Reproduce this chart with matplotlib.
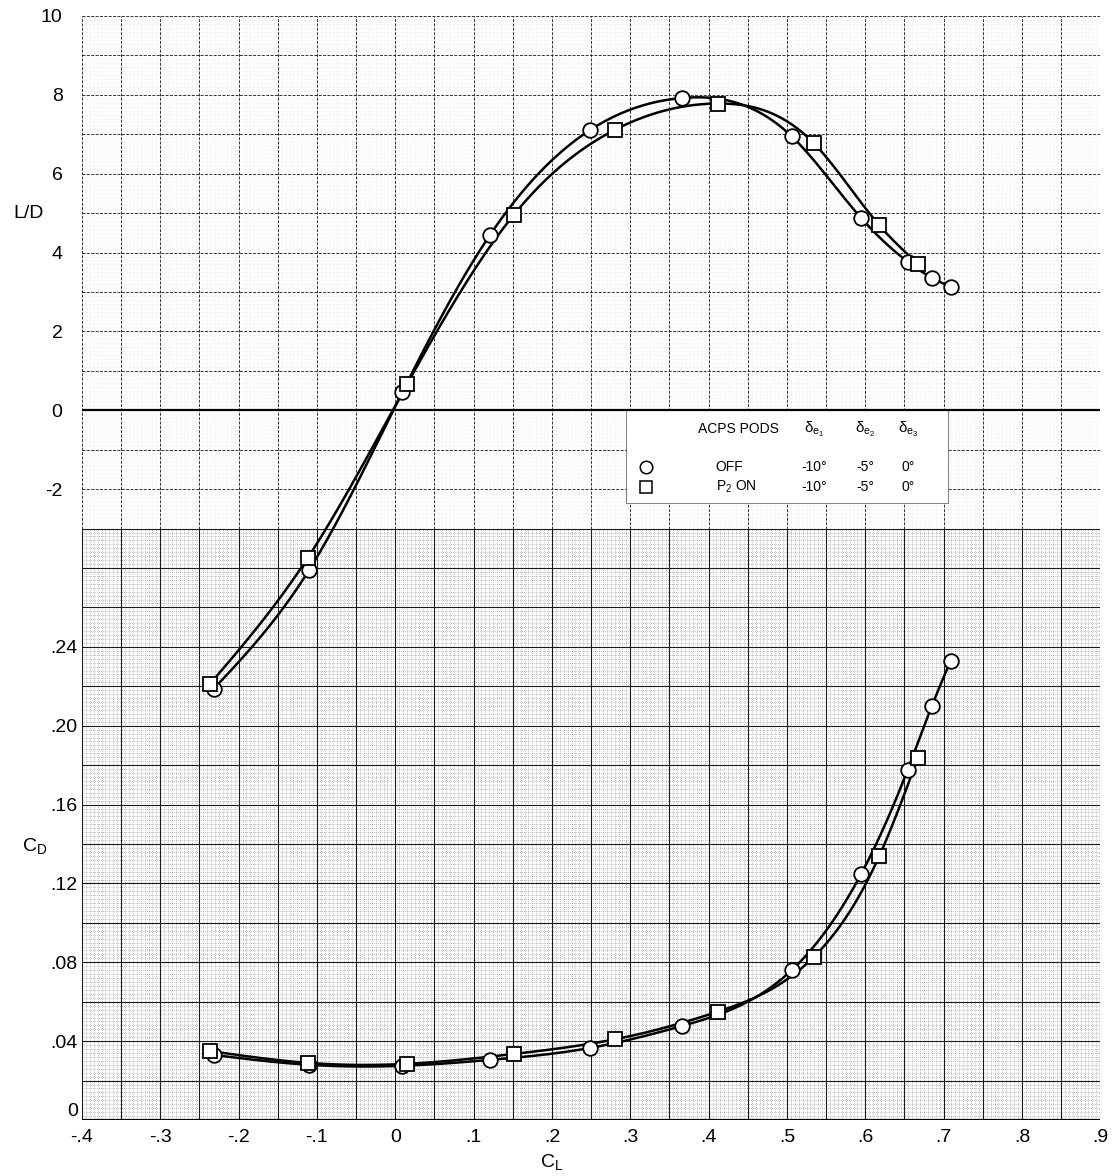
import numpy as np
import matplotlib.pyplot as plt
import matplotlib.transforms as mtransforms
from matplotlib.patches import Rectangle
from matplotlib.lines import Line2D

plt.rcParams['font.family'] = ['Liberation Sans', 'DejaVu Sans']
plt.rcParams['mathtext.fontset'] = 'custom'
plt.rcParams['mathtext.rm'] = 'Liberation Sans'
plt.rcParams['mathtext.it'] = 'Liberation Sans:italic'

# ACPS pods apagados (circulos)
cl_off = [-0.232, -0.110, 0.009, 0.121, 0.248, 0.366, 0.506, 0.595, 0.654, 0.685, 0.709]
ld_off = [-7.07, -4.05, 0.46, 4.45, 7.10, 7.92, 6.95, 4.87, 3.77, 3.36, 3.13]
cd_off = [0.033, 0.028, 0.0275, 0.0305, 0.0365, 0.0477, 0.076, 0.125, 0.1775, 0.210, 0.233]

# P2 encendido (cuadrados)
cl_on = [-0.237, -0.112, 0.015, 0.151, 0.281, 0.412, 0.534, 0.618, 0.667]
ld_on = [-6.95, -3.75, 0.66, 4.95, 7.12, 7.78, 6.78, 4.69, 3.72]
cd_on = [0.035, 0.029, 0.0285, 0.0335, 0.041, 0.055, 0.0826, 0.134, 0.1835]

ticks_cl = [-0.4, -0.3, -0.2, -0.1, 0.0, 0.1, 0.2, 0.3, 0.4, 0.5, 0.6, 0.7, 0.8, 0.9]
etiquetas_cl = ['-.4', '-.3', '-.2', '-.1', '0', '.1', '.2', '.3', '.4', '.5', '.6', '.7', '.8', '.9']
ticks_ld = [10, 8, 6, 4, 2, 0, -2]
ticks_cd = [0.0, 0.04, 0.08, 0.12, 0.16, 0.20, 0.24]
etiquetas_cd = ['0', '.04', '.08', '.12', '.16', '.20', '.24']

encabezado = ['ACPS PODS', 'δ$_{\\mathrm{e}_1}$', 'δ$_{\\mathrm{e}_2}$', 'δ$_{\\mathrm{e}_3}$']
filas = [('o', 'OFF', '-10°', '-5°', '0°'),
         ('s', 'P$_2$ ON', '-10°', '-5°', '0°')]


def spline_natural(x, y, n=300):
    """Curva suave (spline cubico natural) que pasa por los puntos."""
    x = np.asarray(x, float)
    y = np.asarray(y, float)
    m = len(x)
    h = np.diff(x)
    A = np.zeros((m, m))
    b = np.zeros(m)
    A[0, 0] = A[-1, -1] = 1.0
    for i in range(1, m - 1):
        A[i, i - 1] = h[i - 1]
        A[i, i] = 2 * (h[i - 1] + h[i])
        A[i, i + 1] = h[i]
        b[i] = 3 * ((y[i + 1] - y[i]) / h[i] - (y[i] - y[i - 1]) / h[i - 1])
    c = np.linalg.solve(A, b)
    bb = np.diff(y) / h - h * (2 * c[:-1] + c[1:]) / 3
    d = np.diff(c) / (3 * h)
    xs = np.linspace(x[0], x[-1], n)
    k = np.clip(np.searchsorted(x, xs) - 1, 0, m - 2)
    t = xs - x[k]
    ys = y[k] + bb[k] * t + c[k] * t ** 2 + d[k] * t ** 3
    return xs, ys


fig = plt.figure(figsize=(11.17, 11.76), dpi=100)
ax = fig.add_axes([0.0734, 0.0476, 0.9116, 0.9388])
ax.set_xlim(-0.4, 0.9)
ax.set_ylim(0, 0.56)
ax2 = ax.twinx()
ax2.set_ylim(-18, 10)

# papel cuadriculado: la trama fina se ve mas en la parte baja
xf = np.arange(-0.4, 0.9001, 0.005)
yf = np.arange(0, 0.5601, 0.002)
punteo = (0, (1, 2))
ax.vlines(xf, 0, 0.30, colors='0.5', lw=0.5, linestyles=[punteo], zorder=0)
ax.vlines(xf, 0.30, 0.56, colors='0.88', lw=0.4, linestyles=[punteo], zorder=0)
ax.hlines(yf[yf <= 0.30], -0.4, 0.9, colors='0.5', lw=0.5, linestyles=[punteo], zorder=0)
ax.hlines(yf[yf > 0.30], -0.4, 0.9, colors='0.88', lw=0.4, linestyles=[punteo], zorder=0)

xg = np.arange(-0.4, 0.9001, 0.05)
yg = np.arange(0, 0.5601, 0.02)
ax.vlines(xg, 0, 0.30, colors='0.1', lw=0.8, zorder=1)
ax.vlines(xg, 0.30, 0.56, colors='0.2', lw=0.7, linestyles=[(0, (3, 1.5))], zorder=1)
ax.hlines(yg[yg <= 0.30], -0.4, 0.9, colors='0.1', lw=0.8, zorder=1)
ax.hlines(yg[yg > 0.30], -0.4, 0.9, colors='0.2', lw=0.7, linestyles=[(0, (3, 1.5))], zorder=1)
ax.axhline(0, color='black', lw=1.6, zorder=2)
ax2.axhline(0, color='black', lw=1.6, zorder=4)

for s in ax.spines.values():
    s.set_visible(False)
for s in ax2.spines.values():
    s.set_visible(False)

# L/D
for cl, ld, mk in [(cl_off, ld_off, 'o'), (cl_on, ld_on, 's')]:
    xs, ys = spline_natural(cl, ld)
    ax2.plot(xs, ys, color='black', lw=1.8, zorder=5)
    ax2.plot(cl, ld, ls='none', marker=mk, ms=10.5 if mk == 'o' else 9.5,
             mfc='white', mec='black', mew=1.3, zorder=6)

# C_D
for cl, cd, mk in [(cl_off, cd_off, 'o'), (cl_on, cd_on, 's')]:
    xs, ys = spline_natural(cl, cd)
    ax.plot(xs, ys, color='black', lw=1.8, zorder=5)
    ax.plot(cl, cd, ls='none', marker=mk, ms=10.5 if mk == 'o' else 9.5,
            mfc='white', mec='black', mew=1.3, zorder=6)

ax.set_xticks(ticks_cl, etiquetas_cl)
ax.set_yticks(ticks_cd, etiquetas_cd)
ax2.set_yticks(ticks_ld, [str(v) for v in ticks_ld])
ax2.yaxis.set_ticks_position('left')
ax.tick_params(axis='x', length=0, pad=6.5, labelsize=14)
ax.tick_params(axis='y', length=0, pad=3, labelsize=14)
ax2.tick_params(axis='y', length=0, pad=14, labelsize=14)
# el "0" de C_D queda un poco por encima del eje
ax.get_yticklabels()[0].set_verticalalignment('bottom')

trans_ld = mtransforms.blended_transform_factory(ax.transAxes, ax2.transData)
trans_cd = mtransforms.blended_transform_factory(ax.transAxes, ax.transData)
trans_cl = mtransforms.blended_transform_factory(ax.transData, ax.transAxes)
ax2.text(-0.052, 5.0, 'L/D', transform=trans_ld, fontsize=14, ha='center', va='center')
ax.text(-0.046, 0.139, 'C$_\\mathrm{D}$', transform=trans_cd, fontsize=14, ha='center', va='center')
ax.text(0.2, -0.038, 'C$_\\mathrm{L}$', transform=trans_cl, fontsize=14, ha='center', va='center')

# cuadro de leyenda
ax2.add_patch(Rectangle((0.295, -2.35), 0.411, 2.35, facecolor='white',
                        edgecolor='0.3', lw=0.5, zorder=3))
col_x = [0.387, 0.535, 0.600, 0.655]
ax2.text(col_x[0], -0.48, encabezado[0], fontsize=10, ha='left', va='center', zorder=7)
for xc, txt in zip(col_x[1:], encabezado[1:]):
    ax2.text(xc, -0.48, txt, fontsize=11, ha='center', va='center', zorder=7)
for fy, (mk, nombre, d1, d2, d3) in zip([-1.44, -1.95], filas):
    ax2.add_line(Line2D([0.32], [fy], ls='none', marker=mk, ms=9 if mk == 'o' else 8,
                        mfc='white', mec='black', mew=1.1, zorder=7))
    ax2.text(0.409, fy, nombre, fontsize=10, ha='left', va='center', zorder=7)
    for xc, v in zip(col_x[1:], (d1, d2, d3)):
        ax2.text(xc, fy, v, fontsize=10, ha='center', va='center', zorder=7)

fig.savefig('out.png', dpi=100)
